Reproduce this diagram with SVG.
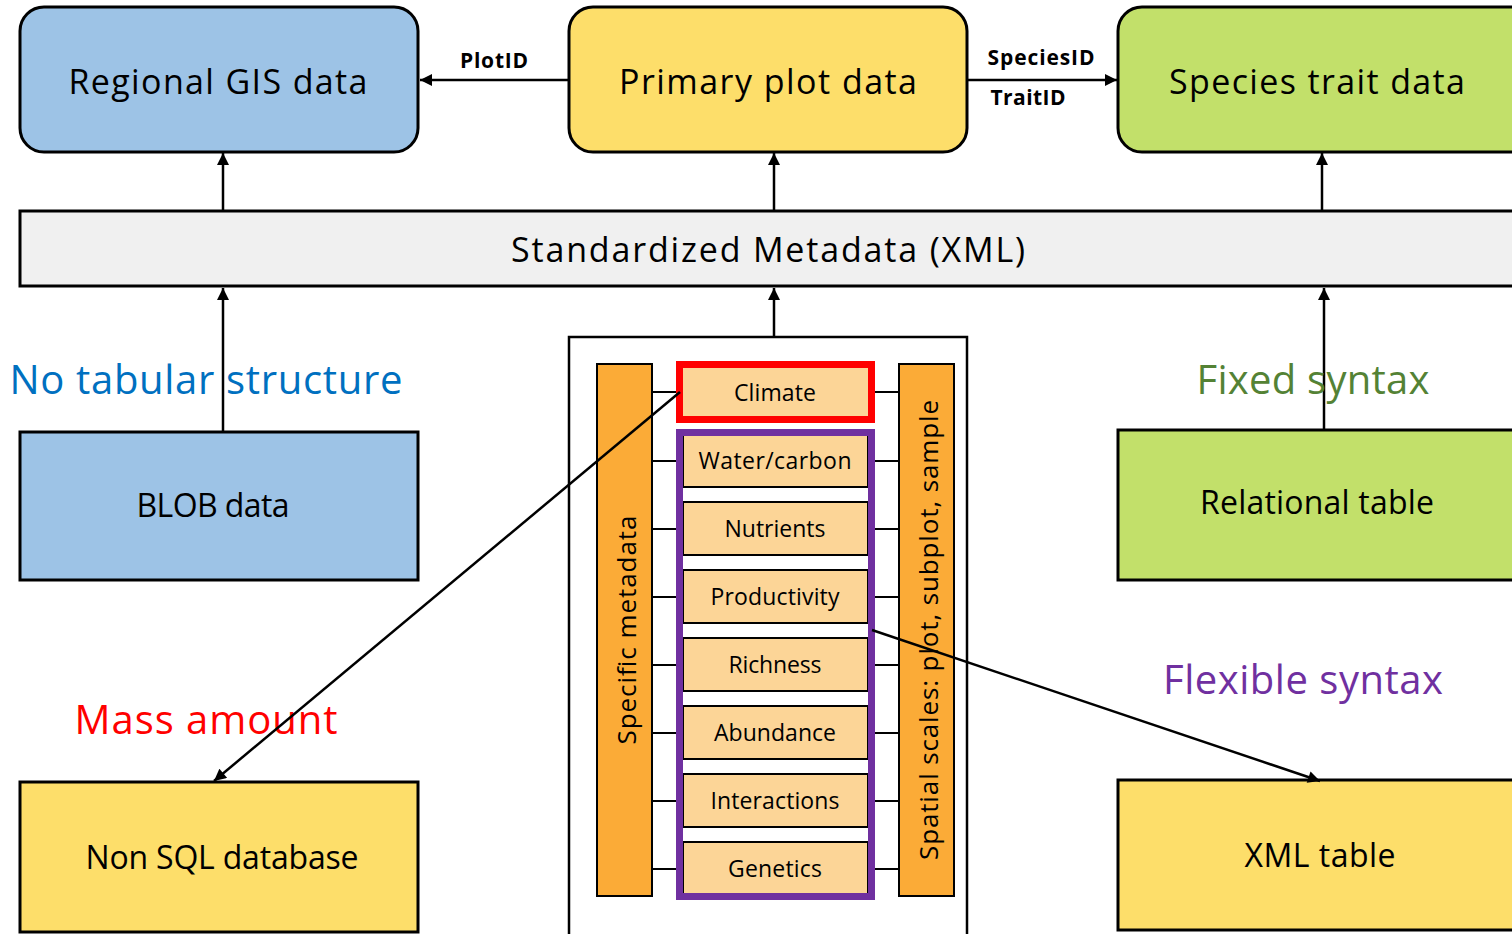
<svg xmlns="http://www.w3.org/2000/svg" width="1512" height="934" viewBox="0 0 1512 934">
  <style>
    text { font-family: "Open Sans", "Noto Sans", "Liberation Sans", sans-serif; fill: #000; text-anchor: middle; }
    .box { stroke: #000; stroke-width: 3; }
    .blue { fill: #9DC3E6; }
    .yellow { fill: #FDDE6A; }
    .green { fill: #C2E06A; }
    .bar { fill: #FBAB37; stroke: #000; stroke-width: 2; }
    .item { fill: #FCD597; stroke: #000; stroke-width: 2; }
    .title { font-size: 34px; }
    .big { font-size: 32px; }
    .key { font-size: 21px; font-weight: bold; }
    .note { font-size: 40px; }
    .it { font-size: 23px; }
    .vert { font-size: 26px; }
    .edge { stroke: #000; stroke-width: 2.5; fill: none; }
    .tick { stroke: #000; stroke-width: 2; }
  </style>
  <defs>
    <marker id="arr" viewBox="0 0 12 12" refX="12" refY="6" markerWidth="13" markerHeight="12" markerUnits="userSpaceOnUse" orient="auto">
      <path d="M0,0 L12,6 L0,12 z" fill="#000"/>
    </marker>
  </defs>

  <rect width="1512" height="934" fill="#fff"/>

  <!-- connectors -->
  <g id="connectors">
    <line class="edge" x1="569" y1="80" x2="420" y2="80" marker-end="url(#arr)"/>
    <line class="edge" x1="967" y1="80" x2="1117" y2="80" marker-end="url(#arr)"/>
    <line class="edge" x1="223" y1="210" x2="223" y2="153" marker-end="url(#arr)"/>
    <line class="edge" x1="774" y1="210" x2="774" y2="153" marker-end="url(#arr)"/>
    <line class="edge" x1="1322" y1="210" x2="1322" y2="153" marker-end="url(#arr)"/>
    <line class="edge" x1="223" y1="432" x2="223" y2="288" marker-end="url(#arr)"/>
    <line class="edge" x1="774" y1="337" x2="774" y2="288" marker-end="url(#arr)"/>
    <line class="edge" x1="1324" y1="430" x2="1324" y2="288" marker-end="url(#arr)"/>
    <text class="key" x="494" y="68" textLength="68">PlotID</text>
    <text class="key" x="1041" y="65" textLength="107">SpeciesID</text>
    <text class="key" x="1028" y="105" textLength="75">TraitID</text>
  </g>

  <!-- top row -->
  <g id="regional-gis">
    <rect class="box blue" x="20" y="7" width="398" height="145" rx="24"/>
    <text class="title" x="218" y="94" textLength="299">Regional GIS data</text>
  </g>
  <g id="primary-plot">
    <rect class="box yellow" x="569" y="7" width="398" height="145" rx="24"/>
    <text class="title" x="768" y="94" textLength="298">Primary plot data</text>
  </g>
  <g id="species-trait">
    <rect class="box green" x="1118" y="7" width="420" height="145" rx="24"/>
    <text class="title" x="1317" y="94" textLength="296">Species trait data</text>
  </g>

  <!-- metadata band -->
  <g id="metadata">
    <rect class="box" x="20" y="211" width="1520" height="75" fill="#F0F0F0"/>
    <text class="title" x="768" y="262" textLength="514">Standardized Metadata (XML)</text>
  </g>

  <!-- left column -->
  <g id="blob">
    <text class="note" x="206" y="394" style="fill:#0070C0" textLength="393">No tabular structure</text>
    <rect class="box blue" x="20" y="432" width="398" height="148"/>
    <text class="big" x="213" y="517" textLength="153">BLOB data</text>
  </g>
  <g id="nosql">
    <text class="note" x="206" y="734" style="fill:#FF0000" textLength="263">Mass amount</text>
    <rect class="box yellow" x="20" y="782" width="398" height="150"/>
    <text class="big" x="222" y="869" textLength="273">Non SQL database</text>
  </g>

  <!-- right column -->
  <g id="relational">
    <text class="note" x="1313" y="394" style="fill:#548235" textLength="233">Fixed syntax</text>
    <rect class="box green" x="1118" y="430" width="420" height="150"/>
    <text class="big" x="1317" y="514" textLength="234">Relational table</text>
  </g>
  <g id="xml-table">
    <text class="note" x="1303" y="694" style="fill:#7030A0" textLength="280">Flexible syntax</text>
    <rect class="box yellow" x="1118" y="780" width="420" height="150"/>
    <text class="big" x="1320" y="867" textLength="151">XML table</text>
  </g>

  <!-- central metadata panel -->
  <g id="panel">
    <rect x="569" y="337" width="398" height="610" fill="#fff" stroke="#000" stroke-width="2.5"/>
    <rect class="bar" x="597" y="364" width="55" height="532"/>
    <rect class="bar" x="899" y="364" width="55" height="532"/>
    <text class="vert" transform="translate(636,630) rotate(-90)" textLength="229">Specific metadata</text>
    <text class="vert" transform="translate(938,630) rotate(-90)" textLength="460">Spatial scales: plot, subplot, sample</text>
    <g id="ticks">
      <line class="tick" x1="652" y1="392" x2="679" y2="392"/>
      <line class="tick" x1="872" y1="392" x2="899" y2="392"/>
      <line class="tick" x1="652" y1="461" x2="679" y2="461"/>
      <line class="tick" x1="872" y1="461" x2="899" y2="461"/>
      <line class="tick" x1="652" y1="529" x2="679" y2="529"/>
      <line class="tick" x1="872" y1="529" x2="899" y2="529"/>
      <line class="tick" x1="652" y1="597" x2="679" y2="597"/>
      <line class="tick" x1="872" y1="597" x2="899" y2="597"/>
      <line class="tick" x1="652" y1="665" x2="679" y2="665"/>
      <line class="tick" x1="872" y1="665" x2="899" y2="665"/>
      <line class="tick" x1="652" y1="733" x2="679" y2="733"/>
      <line class="tick" x1="872" y1="733" x2="899" y2="733"/>
      <line class="tick" x1="652" y1="801" x2="679" y2="801"/>
      <line class="tick" x1="872" y1="801" x2="899" y2="801"/>
      <line class="tick" x1="652" y1="869" x2="679" y2="869"/>
      <line class="tick" x1="872" y1="869" x2="899" y2="869"/>
    </g>
  </g>
  <g id="climate">
    <rect x="679.5" y="364.5" width="192" height="55" fill="#FCD597" stroke="#FF0000" stroke-width="7"/>
    <text class="it" x="775" y="401" textLength="82">Climate</text>
  </g>
  <g id="variables">
    <rect x="679.5" y="432.5" width="192" height="464" fill="#fff" stroke="#7030A0" stroke-width="7"/>
    <rect class="item" x="683" y="434" width="185" height="53"/>
    <rect class="item" x="683" y="502" width="185" height="53"/>
    <rect class="item" x="683" y="570" width="185" height="53"/>
    <rect class="item" x="683" y="638" width="185" height="53"/>
    <rect class="item" x="683" y="706" width="185" height="53"/>
    <rect class="item" x="683" y="774" width="185" height="53"/>
    <rect class="item" x="683" y="842" width="185" height="53"/>
    <rect x="679.5" y="432.5" width="192" height="464" fill="none" stroke="#7030A0" stroke-width="7"/>
    <text class="it" x="775" y="469" textLength="153">Water/carbon</text>
    <text class="it" x="775" y="537" textLength="101">Nutrients</text>
    <text class="it" x="775" y="605" textLength="129">Productivity</text>
    <text class="it" x="775" y="673" textLength="93">Richness</text>
    <text class="it" x="775" y="741" textLength="122">Abundance</text>
    <text class="it" x="775" y="809" textLength="129">Interactions</text>
    <text class="it" x="775" y="877" textLength="94">Genetics</text>
  </g>

  <!-- diagonal links from the panel to the storage types -->
  <g id="links">
    <line class="edge" x1="680" y1="392" x2="214" y2="781" stroke-width="2" marker-end="url(#arr)"/>
    <line class="edge" x1="872" y1="630" x2="1320" y2="781" stroke-width="2" marker-end="url(#arr)"/>
  </g>
</svg>
